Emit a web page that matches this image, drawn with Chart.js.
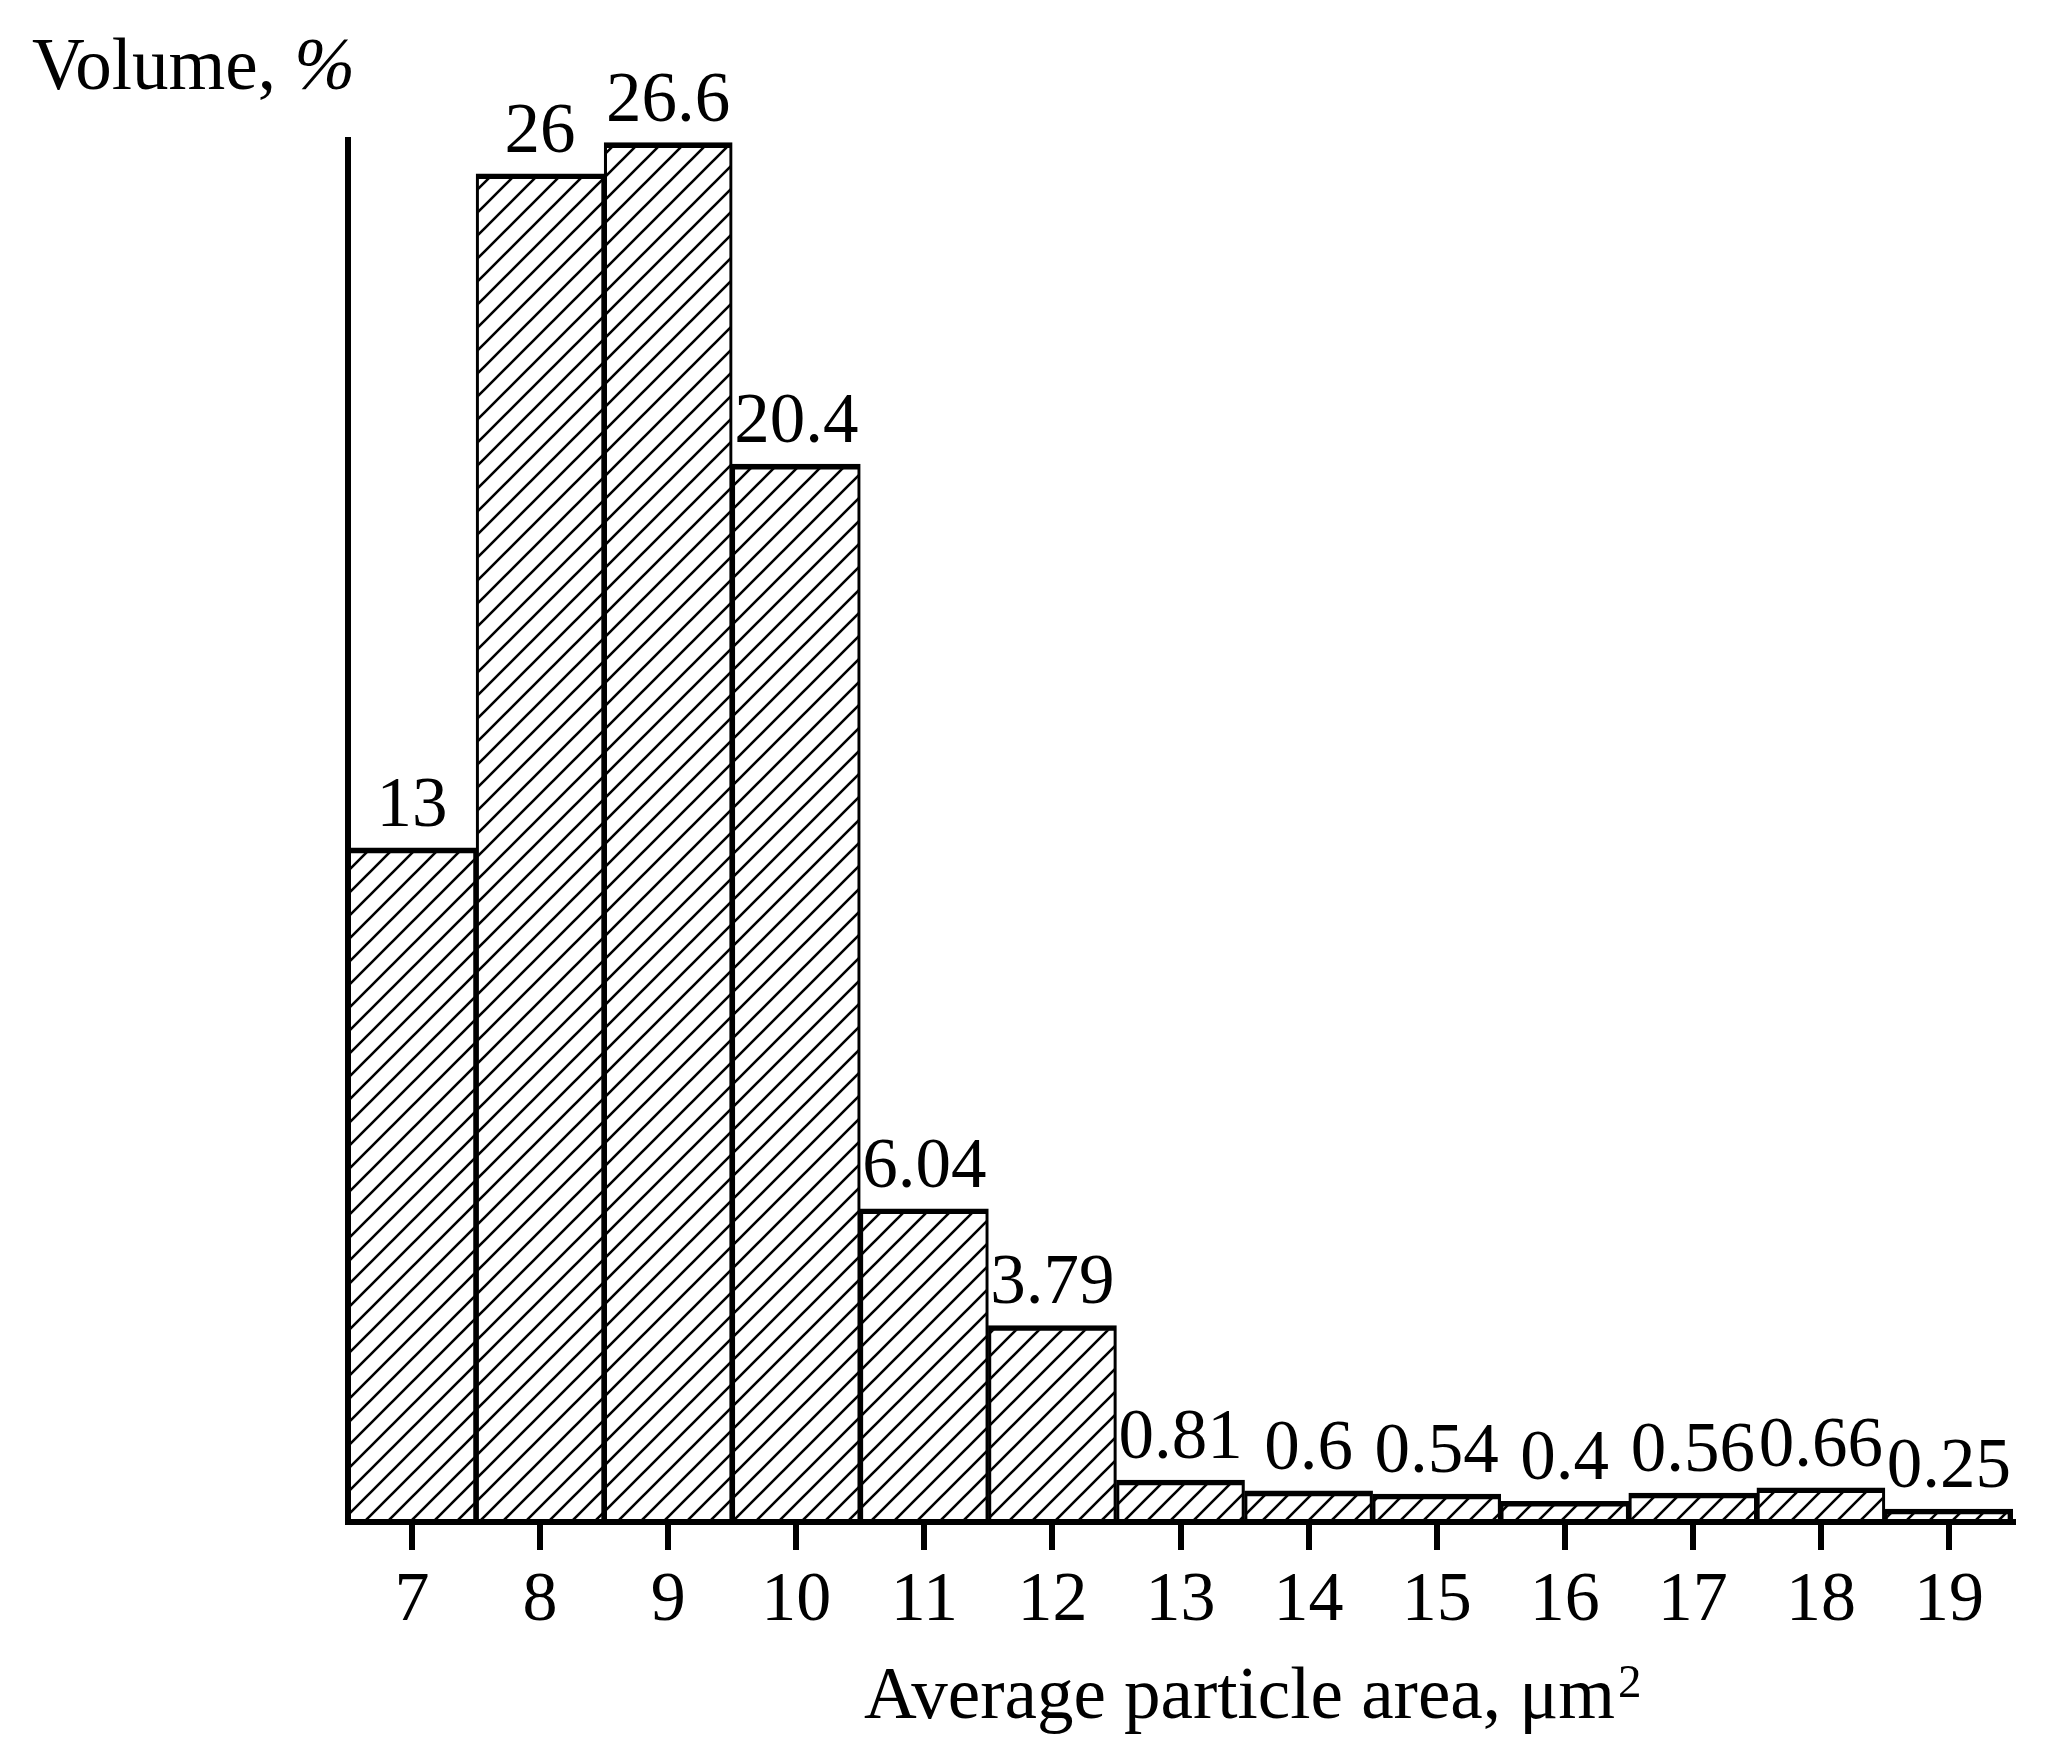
<!DOCTYPE html>
<html>
<head>
<meta charset="utf-8">
<script src="https://cdn.jsdelivr.net/npm/chart.js@4.4.1/dist/chart.umd.min.js"></script>
<style>
  html, body { margin: 0; padding: 0; background: #fff; }
</style>
</head>
<body>
<canvas id="histo" width="2046" height="1754"></canvas>
<script>
// particle area bins (µm²) and volume share (%)
const categories = ["7", "8", "9", "10", "11", "12", "13", "14", "15", "16", "17", "18", "19"];
const volumes = [13, 26, 26.6, 20.4, 6.04, 3.79, 0.81, 0.6, 0.54, 0.4, 0.56, 0.66, 0.25];
const valueLabels = ["13", "26", "26.6", "20.4", "6.04", "3.79", "0.81", "0.6", "0.54", "0.4", "0.56", "0.66", "0.25"];
const yMax = 26.65;

const FONT = '"Liberation Serif", "Times New Roman", serif';

const canvas = document.getElementById("histo");
const ctx = canvas.getContext("2d");

// diagonal "/" hatching
function makeHatch() {
    const s = 23;
    const tile = document.createElement("canvas");
    tile.width = s;
    tile.height = s;
    const g = tile.getContext("2d");
    g.strokeStyle = "#000";
    g.lineWidth = 2.6;
    g.beginPath();
    g.moveTo(-s, s); g.lineTo(s, -s);
    g.moveTo(0, s); g.lineTo(s, 0);
    g.moveTo(0, 2 * s); g.lineTo(2 * s, 0);
    g.stroke();
    return ctx.createPattern(tile, "repeat");
}

const whiteBg = {
    id: "whiteBg",
    beforeDraw(chart) {
        const c = chart.ctx;
        c.save();
        c.fillStyle = "#fff";
        c.fillRect(0, 0, chart.width, chart.height);
        c.restore();
    }
};

const valueLabelPlugin = {
    id: "valueLabels",
    afterDatasetsDraw(chart) {
        const c = chart.ctx;
        const meta = chart.getDatasetMeta(0);
        c.save();
        c.font = "71px " + FONT;
        c.fillStyle = "#000";
        c.textAlign = "center";
        c.textBaseline = "alphabetic";
        meta.data.forEach((bar, i) => {
            c.fillText(valueLabels[i], bar.x, bar.y - 22);
        });
        c.restore();
    }
};

const axisTitles = {
    id: "axisTitles",
    afterDraw(chart) {
        const c = chart.ctx;
        c.save();
        c.fillStyle = "#000";
        c.textBaseline = "alphabetic";
        c.textAlign = "left";
        // y title
        c.font = "73px " + FONT;
        c.fillText("Volume, ", 32, 89);
        let w = c.measureText("Volume, ").width;
        c.font = "italic 73px " + FONT;
        c.fillText("%", 32 + w, 89);
        // x title
        c.font = "73px " + FONT;
        const xt = "Average particle area, \u03bcm";
        c.fillText(xt, 864, 1718);
        w = c.measureText(xt).width;
        c.font = "47px " + FONT;
        c.fillText("2", 864 + w + 3, 1697);
        c.restore();
    }
};

new Chart(canvas, {
    type: "bar",
    data: {
        labels: categories,
        datasets: [{
            data: volumes,
            backgroundColor: makeHatch(),
            borderColor: "#000",
            borderWidth: (c) => ({
                top: 5,
                left: 2.5,
                right: c.dataIndex === volumes.length - 1 ? 5 : 2.5,
                bottom: 0
            }),
            borderSkipped: false,
            barPercentage: 1,
            categoryPercentage: 1
        }]
    },
    options: {
        responsive: false,
        animation: false,
        devicePixelRatio: 1,
        layout: { padding: { left: 348, right: 33, top: 140, bottom: 100 } },
        plugins: { legend: { display: false }, tooltip: { enabled: false } },
        scales: {
            x: {
                grid: {
                    display: true,
                    drawOnChartArea: false,
                    drawTicks: true,
                    tickLength: 28,
                    lineWidth: 6,
                    color: "#000",
                    offset: false
                },
                border: { display: true, color: "#000", width: 6 },
                ticks: {
                    color: "#000",
                    font: { family: FONT, size: 70 },
                    padding: 10,
                    maxRotation: 0,
                    autoSkip: false
                }
            },
            y: {
                min: 0,
                max: yMax,
                grid: { display: false, drawTicks: false },
                border: { display: true, color: "#000", width: 6 },
                ticks: { display: false }
            }
        }
    },
    plugins: [whiteBg, valueLabelPlugin, axisTitles]
});
</script>
</body>
</html>
